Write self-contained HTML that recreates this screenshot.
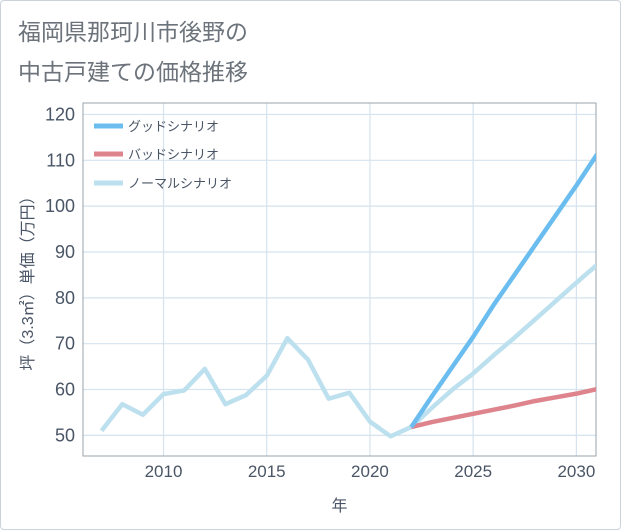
<!DOCTYPE html>
<html><head><meta charset="utf-8"><style>
body{margin:0;background:#fff;font-family:"Liberation Sans","Noto Sans CJK JP",sans-serif}
#wrap{position:relative;width:619px;height:528px;border:1px solid #ccd3dc;border-radius:4px;overflow:hidden}
</style></head><body>
<div id="wrap">
<svg id="c" width="621" height="530" style="position:absolute;left:-1px;top:-1px"></svg>
</div>
<script>
const years=[2007,2008,2009,2010,2011,2012,2013,2014,2015,2016,2017,2018,2019,2020,2021,2022];
const normalHist=[51,56.8,54.5,59,59.8,64.5,56.8,58.8,63,71.2,66.5,58,59.3,53,49.8,51.8];
const futYears=[2022,2023,2024,2025,2026,2027,2028,2029,2030,2031];
const good=[51.8,58.5,65,71.5,78.5,85,91.5,98,104.5,111.3];
const bad=[51.8,52.9,53.8,54.7,55.6,56.5,57.5,58.3,59.1,60.1];
const normal=[51.8,56,60,63.5,67.5,71.3,75.3,79.3,83.3,87.2];
const xTicks=[2010,2015,2020,2025,2030];
const yTicks=[50,60,70,80,90,100,110,120];
const L=83,R=596,T=103,B=456,X0=2006.1,X1=2030.95,Y0=45.5,Y1=122.5;
const x=v=>L+(v-X0)/(X1-X0)*(R-L), y=v=>B-(v-Y0)/(Y1-Y0)*(B-T);
const s=document.getElementById('c'),NS='http://www.w3.org/2000/svg';
function el(t,a,p){const e=document.createElementNS(NS,t);for(const k in a)e.setAttribute(k,a[k]);(p||s).appendChild(e);return e;}
function tx(str,a,name){const e=el('text',a);e.textContent=str;return e;}
tx('福岡県那珂川市後野の',{x:18,y:40,'font-size':23,fill:'#6c737b'},'title-line1');
tx('中古戸建ての価格推移',{x:18,y:80,'font-size':23,fill:'#6c737b'},'title-line2');
xTicks.forEach(v=>{const g=el('line',{x1:x(v),x2:x(v),y1:T,y2:B,stroke:'#d5e3ee','stroke-width':1.2});
tx(String(v),{x:x(v),y:B+21,'font-size':17,fill:'#4a5566','text-anchor':'middle'},'x-tick-label');});
yTicks.forEach(v=>{const g=el('line',{x1:L,x2:R,y1:y(v),y2:y(v),stroke:'#d5e3ee','stroke-width':1.2});
tx(String(v),{x:L-8,y:y(v)+6,'font-size':18,fill:'#4a5566','text-anchor':'end'},'y-tick-label');});
const fr=el('rect',{x:L,y:T,width:R-L,height:B-T,fill:'none',stroke:'#9aa3ad'});
tx('年',{x:(L+R)/2,y:511,'font-size':16,fill:'#4a5566','text-anchor':'middle'},'x-axis-title');
tx('坪（3.3㎡）単価（万円）',{x:0,y:0,'font-size':16,fill:'#4a5566','text-anchor':'middle',transform:`translate(33,${(T+B)/2}) rotate(-90)`},'y-axis-title');
const cp=el('clipPath',{id:'cl'});el('rect',{x:L,y:T,width:R-L,height:B-T},cp);
function line(xs,vs,col,name){const p=el('path',{d:xs.map((v,i)=>(i?'L':'M')+x(v)+','+y(vs[i])).join(''),fill:'none',stroke:col,'stroke-width':4.5,'stroke-linejoin':'round','clip-path':'url(#cl)'});}
line(years,normalHist,'#bde0ef','history-line');
line(futYears,normal,'#bde0ef','normal-line');
line(futYears,bad,'#de848c','bad-line');
line(futYears,good,'#6bbdf0','good-line');
[['グッドシナリオ','#6bbdf0',126],['バッドシナリオ','#de848c',154],['ノーマルシナリオ','#bde0ef',183]].forEach(([t,c,yy],i)=>{
const g=el('g',{});
el('line',{x1:94,x2:123,y1:yy,y2:yy,stroke:c,'stroke-width':5},g);
const e=el('text',{x:128,y:yy+5,'font-size':13,fill:'#4a5566'},g);e.textContent=t;});
</script>
</body></html>
